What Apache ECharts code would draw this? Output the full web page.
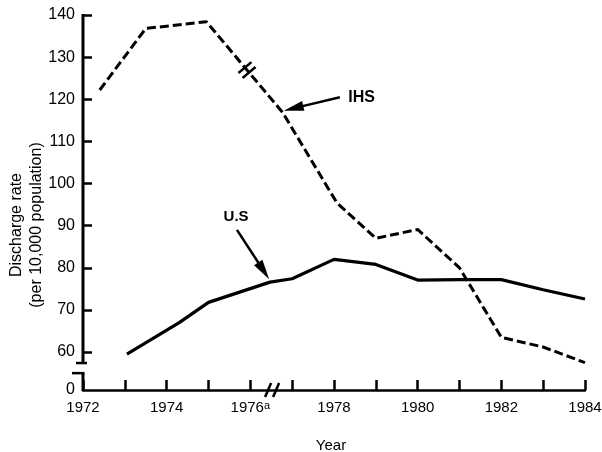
<!DOCTYPE html>
<html>
<head>
<meta charset="utf-8">
<script src="https://cdn.jsdelivr.net/npm/echarts@6/dist/echarts.min.js"></script>
<style>
  html, body { margin: 0; padding: 0; background: #fff; }
  #chart { width: 602px; height: 452px; }
</style>
</head>
<body>
<div id="chart"></div>
<script>
// Hospital discharge rates per 10,000 population: IHS vs. U.S.
const yearTicks  = [1972, 1973, 1974, 1975, 1976, 1977, 1978, 1979, 1980, 1981, 1982, 1983, 1984];
const yearLabels = [1972, 1974, 1976, 1978, 1980, 1982, 1984];
const rateTicks  = [60, 70, 80, 90, 100, 110, 120, 130, 140];
const rateLabels = [51, 60, 70, 80, 90, 100, 110, 120, 130, 140];

const ihsYears = [1972.4, 1973.5, 1974.95, 1976.77, 1978.07, 1979, 1980, 1981, 1982, 1983, 1984];
const ihsRates = [122.2, 136.8, 138.4, 116.9, 95.4, 87.0, 89.1, 80.0, 63.5, 61.2, 57.5];

const usYears = [1973.05, 1974.3, 1975, 1976.47, 1977, 1978, 1979, 1980, 1981, 1982, 1983, 1984];
const usRates = [59.5, 67.0, 71.8, 76.6, 77.4, 82.0, 80.8, 77.1, 77.2, 77.2, 74.8, 72.6];

// Annotation anchors (data space)
const ihsArrow = { from: [1978.14, 120.5], to: [1976.8, 117.3] };
const usArrow  = { from: [1975.68, 89.0], to: [1976.45, 77.3] };
const ihsLabelAt = [1978.34, 120.5];
const usLabelAt  = [1975.66, 92.1];
const xBreakYear = 1976.52;
const ihsBreakYear = 1975.92;
const yAxisBreak = { upperEnd: 57.4, lowerStart: 55.0 };

const FONT = "'Liberation Sans', Arial, Helvetica, sans-serif";
const INK = '#000';

const zip = (xs, ys) => xs.map((x, i) => [x, ys[i]]);

const chart = echarts.init(document.getElementById('chart'), null, { renderer: 'canvas' });

const option = {
  animation: false,
  backgroundColor: '#fff',
  grid: { left: 83, right: 17, top: 15, bottom: 62, containLabel: false, outerBoundsMode: 'none' },
  xAxis: {
    type: 'value',
    min: 1972,
    max: 1984,
    interval: 1,
    axisLine: { show: true, lineStyle: { color: INK, width: 2.5 } },
    axisTick: { show: true, inside: true, length: 10, customValues: yearTicks, lineStyle: { color: INK, width: 2.5 } },
    axisLabel: {
      show: true,
      customValues: yearLabels,
      margin: 10,
      color: INK,
      fontFamily: FONT,
      fontSize: 15,
      formatter: v => (v === 1976 ? '1976{a|a}' : String(v)),
      rich: { a: { fontSize: 11, fontFamily: FONT, color: INK, verticalAlign: 'top' } }
    },
    splitLine: { show: false }
  },
  yAxis: {
    type: 'value',
    min: 51,
    max: 140,
    axisLine: { show: false },
    axisTick: { show: true, inside: true, length: 9, customValues: rateTicks, lineStyle: { color: INK, width: 2.5 } },
    axisLabel: {
      show: true,
      customValues: rateLabels,
      margin: 8,
      color: INK,
      fontFamily: FONT,
      fontSize: 16,
      formatter: v => (v === 51 ? '0' : String(v))
    },
    splitLine: { show: false }
  },
  series: [
    {
      name: 'IHS',
      type: 'line',
      data: zip(ihsYears, ihsRates),
      symbol: 'none',
      smooth: false,
      silent: true,
      lineStyle: { color: INK, width: 3, type: [9, 4] }
    },
    {
      name: 'U.S',
      type: 'line',
      data: zip(usYears, usRates),
      symbol: 'none',
      smooth: false,
      silent: true,
      lineStyle: { color: INK, width: 3.2 }
    }
  ]
};

chart.setOption(option);

// Decorations placed through the chart's own coordinate system
const px = p => chart.convertToPixel({ gridIndex: 0 }, p);

function interp(xs, ys, x) {
  for (let i = 0; i < xs.length - 1; i++) {
    if (x >= xs[i] && x <= xs[i + 1]) {
      const t = (x - xs[i]) / (xs[i + 1] - xs[i]);
      return ys[i] + t * (ys[i + 1] - ys[i]);
    }
  }
  return ys[ys.length - 1];
}
function segIndex(xs, x) {
  for (let i = 0; i < xs.length - 1; i++) if (x >= xs[i] && x <= xs[i + 1]) return i;
  return xs.length - 2;
}
const seg = (a, b, w) => ({
  type: 'line', silent: true, z: 10,
  shape: { x1: a[0], y1: a[1], x2: b[0], y2: b[1] },
  style: { stroke: INK, lineWidth: w || 2.5, lineCap: 'butt' }
});

function arrow(fromData, toData) {
  const a = px(fromData), b = px(toData);
  const dx = b[0] - a[0], dy = b[1] - a[1];
  const len = Math.hypot(dx, dy);
  const ux = dx / len, uy = dy / len;
  const headLen = 20, half = 5;
  const base = [b[0] - ux * headLen, b[1] - uy * headLen];
  return [
    seg(a, [b[0] - ux * headLen * 0.7, b[1] - uy * headLen * 0.7], 2.5),
    {
      type: 'polygon', silent: true, z: 10,
      shape: { points: [b, [base[0] - uy * half, base[1] + ux * half], [base[0] + uy * half, base[1] - ux * half]] },
      style: { fill: INK }
    }
  ];
}

function textEl(t, pos, fontSize, weight, align, extra) {
  return Object.assign({
    type: 'text', silent: true, z: 10,
    x: pos[0], y: pos[1],
    style: {
      text: t, fill: INK,
      font: (weight || 'normal') + ' ' + fontSize + 'px ' + FONT,
      align: align || 'center', textAlign: align || 'center',
      verticalAlign: 'middle', textVerticalAlign: 'middle'
    }
  }, extra || {});
}

const graphics = [];

// Broken y axis: upper part with end bar, lower stub with its own bar
const yTop = px([1972, 140]);
const yUp = px([1972, yAxisBreak.upperEnd]);
const yLow = px([1972, yAxisBreak.lowerStart]);
const yBase = px([1972, 51]);
graphics.push(seg([yTop[0], yTop[1] - 1], yUp, 3));
graphics.push(seg([yUp[0] - 7, yUp[1]], [yUp[0] + 4, yUp[1]], 2.5));
graphics.push(seg(yLow, [yBase[0], yBase[1] + 1], 3));
graphics.push(seg([yLow[0] - 11, yLow[1]], [yLow[0] + 1.5, yLow[1]], 2.5));

// Break marks on the x axis
const xb = px([xBreakYear, 51]);
[-4, 4].forEach(o => graphics.push(seg([xb[0] + o - 3, xb[1] + 7], [xb[0] + o + 3, xb[1] - 7], 2.5)));

// Break marks across the IHS line
{
  const i = segIndex(ihsYears, ihsBreakYear);
  const p0 = px([ihsYears[i], ihsRates[i]]), p1 = px([ihsYears[i + 1], ihsRates[i + 1]]);
  const l = Math.hypot(p1[0] - p0[0], p1[1] - p0[1]);
  const ux = (p1[0] - p0[0]) / l, uy = (p1[1] - p0[1]) / l;
  const c = px([ihsBreakYear, interp(ihsYears, ihsRates, ihsBreakYear)]);
  [-3.2, 3.2].forEach(o => {
    const m = [c[0] + ux * o, c[1] + uy * o];
    graphics.push(seg([m[0] - uy * 8.5, m[1] + ux * 8.5], [m[0] + uy * 8.5, m[1] - ux * 8.5], 2.5));
  });
}

// Series callouts
graphics.push(...arrow(ihsArrow.from, ihsArrow.to));
graphics.push(...arrow(usArrow.from, usArrow.to));
graphics.push(textEl('IHS', px(ihsLabelAt), 16, 'bold', 'left'));
graphics.push(textEl('U.S', px(usLabelAt), 15, 'bold', 'center'));

// Axis titles
const gridMid = px([1978, 51]);
graphics.push(textEl('Year', [gridMid[0] - 3, 446], 15, 'normal', 'center'));
graphics.push(textEl('Discharge rate\n(per 10,000 population)', [27, 225], 16, 'normal', 'center',
  { rotation: Math.PI / 2 }));
graphics[graphics.length - 1].style.lineHeight = 20;

chart.setOption({ graphic: { elements: graphics } });
</script>
</body>
</html>
